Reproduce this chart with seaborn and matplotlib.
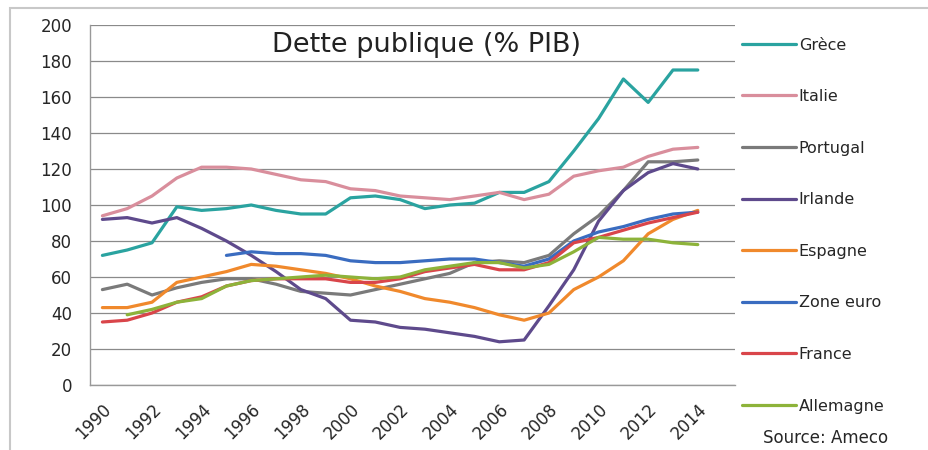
import numpy as np
import pandas as pd
import matplotlib
matplotlib.use("Agg")
import matplotlib.pyplot as plt
from matplotlib.lines import Line2D
from matplotlib.patches import Rectangle
import seaborn as sns

# Dette publique en % du PIB (source Ameco)
years = list(range(1990, 2015))
grece = [72, 75, 79, 99, 97, 98, 100, 97, 95, 95, 104, 105, 103, 98, 100, 101,
         107, 107, 113, 130, 148, 170, 157, 175, 175]
italie = [94, 98, 105, 115, 121, 121, 120, 117, 114, 113, 109, 108, 105, 104, 103, 105,
          107, 103, 106, 116, 119, 121, 127, 131, 132]
portugal = [53, 56, 50, 54, 57, 59, 59, 56, 52, 51, 50, 53, 56, 59, 62, 68,
            69, 68, 72, 84, 94, 108, 124, 124, 125]
irlande = [92, 93, 90, 93, 87, 80, 72, 63, 53, 48, 36, 35, 32, 31, 29, 27,
           24, 25, 44, 64, 91, 108, 118, 123, 120]
espagne = [43, 43, 46, 57, 60, 63, 67, 66, 64, 62, 59, 55, 52, 48, 46, 43,
           39, 36, 40, 53, 60, 69, 84, 92, 97]
zone_euro = [None, None, None, None, None, 72, 74, 73, 73, 72, 69, 68, 68, 69, 70, 70,
             68, 66, 70, 80, 85, 88, 92, 95, 96]
france = [35, 36, 40, 46, 49, 55, 58, 59, 59, 59, 57, 57, 59, 63, 65, 67,
          64, 64, 68, 79, 82, 86, 90, 93, 96]
allemagne = [None, 39, 42, 46, 48, 55, 58, 59, 60, 61, 60, 59, 60, 64, 66, 68,
             68, 65, 67, 74, 82, 81, 81, 79, 78]

pays = ["Grèce", "Italie", "Portugal", "Irlande", "Espagne", "Zone euro", "France", "Allemagne"]
series = [grece, italie, portugal, irlande, espagne, zone_euro, france, allemagne]
couleurs = ["#2aa3a0", "#d98e9c", "#7a7a7a", "#5e4a8c", "#f0892c", "#3a6cc0", "#d9454a", "#8db33a"]

df = pd.DataFrame({"Année": years})
for p, s in zip(pays, series):
    df[p] = s
df = df.melt(id_vars="Année", var_name="Pays", value_name="Dette").dropna()

sns.set_style("white")
plt.rcParams["font.family"] = ["DejaVu Sans"]

fig = plt.figure(figsize=(9.29, 4.5), dpi=100)
ax = fig.add_axes([90 / 929, 1 - 385 / 450, 645 / 929, 360 / 450])

sns.lineplot(data=df, x="Année", y="Dette", hue="Pays", hue_order=pays,
             palette=couleurs, linewidth=2.3, legend=False, ax=ax)

ax.set_xlim(1989.5, 2015.5)
ax.set_ylim(0, 200)
ax.set_yticks(range(0, 201, 20))
ax.set_xticks(range(1990, 2015, 2))
ax.set_xticks(np.arange(1989.5, 2016, 1), minor=True)
ax.set_xticklabels([str(y) for y in range(1990, 2015, 2)], rotation=45,
                   ha="right", rotation_mode="anchor", fontsize=12)
ax.tick_params(axis="x", which="major", length=0, pad=11)
ax.tick_params(axis="x", which="minor", length=6, color="#999999", width=1)
ax.tick_params(axis="y", length=8, color="#888888", width=1, labelsize=12, pad=5)
ax.set_xlabel("")
ax.set_ylabel("")

ax.grid(axis="y", color="#8a8a8a", linewidth=0.9)
ax.set_axisbelow(True)
for side in ["top", "right"]:
    ax.spines[side].set_visible(False)
for side in ["left", "bottom"]:
    ax.spines[side].set_color("#999999")
    ax.spines[side].set_linewidth(1)

ax.text(0.522, 0.944, "Dette publique (% PIB)", transform=ax.transAxes,
        ha="center", va="center", fontsize=19.5, color="#222222")

handles = [Line2D([], [], color=c, linewidth=2.3) for c in couleurs]
fig.legend(handles, pays, loc="upper left",
           bbox_to_anchor=(742 / 929, 1 - 37.5 / 450), bbox_transform=fig.transFigure,
           frameon=False, fontsize=11.5, handlelength=3.4, handletextpad=0.15,
           labelspacing=2.29, borderpad=0, borderaxespad=0)

fig.text(763 / 929, 1 - 438 / 450, "Source: Ameco", fontsize=12, va="center", ha="left")

fig.patches.append(Rectangle((10 / 929, -0.01), 1.0, 1 - 8 / 450 + 0.01,
                             transform=fig.transFigure, fill=False,
                             edgecolor="#c8c8c8", linewidth=1.5))

fig.savefig("out.png", dpi=100)
